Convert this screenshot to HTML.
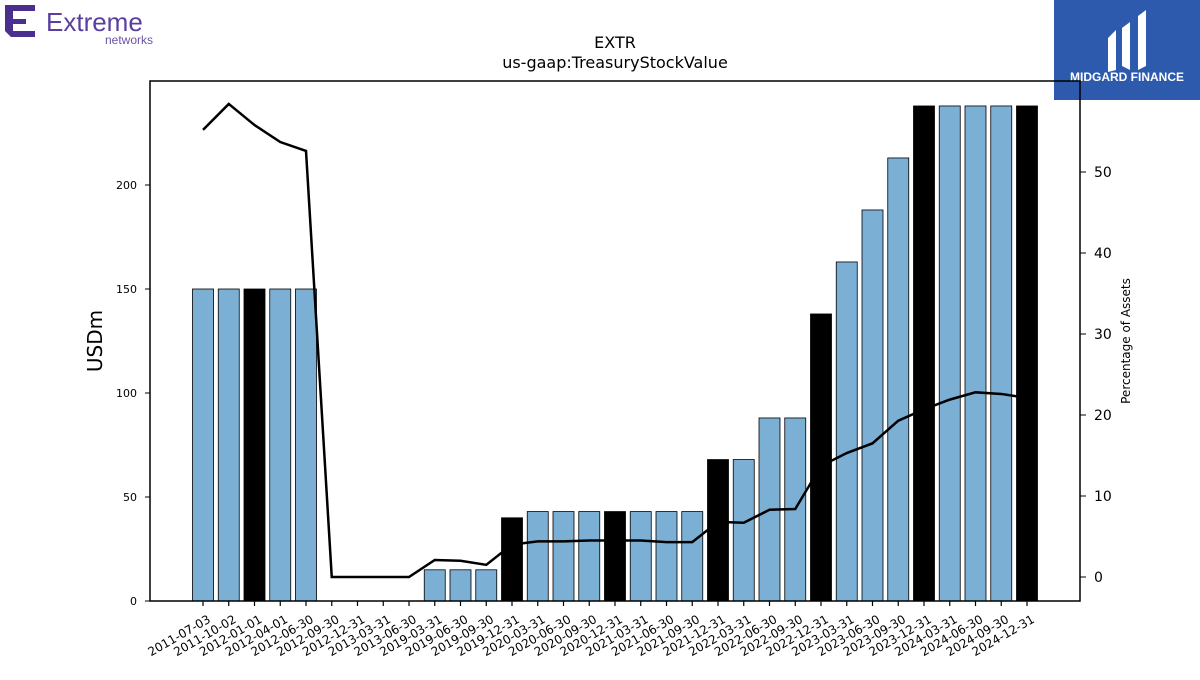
<!DOCTYPE html>
<html><head><meta charset="utf-8"><style>
body{margin:0;background:#fff;font-family:"Liberation Sans","DejaVu Sans",sans-serif}
</style></head><body>
<svg id="chart" width="1200" height="675" xmlns="http://www.w3.org/2000/svg" font-family="DejaVu Sans, Liberation Sans, sans-serif">
<g>
<path d="M5 5 H35 V11 H13 V19 H26 V24 H13 V31 H35 V37 H11 L5 31 Z" fill="#4b2f8f"/>
<text x="46" y="31" font-size="26" fill="#5a3f9e" font-family="Liberation Sans, sans-serif">Extreme</text>
<text x="105" y="44" font-size="12" fill="#6a52a8" font-family="Liberation Sans, sans-serif">networks</text>
</g>
<g>
<rect x="1054" y="0" width="146" height="100" fill="#2d5aad"/>
<path d="M1108 38 L1116 30 V70 L1108 72 Z M1122 28 L1130 22 V70 L1122 66 Z M1138 16 L1146 10 V66 L1138 70 Z" fill="#fff"/>
<text x="1127" y="81" font-size="12" font-weight="bold" fill="#fff" text-anchor="middle" font-family="Liberation Sans, sans-serif">MIDGARD FINANCE</text>
</g>
<text x="615" y="48" font-size="16" text-anchor="middle">EXTR</text>
<text x="615" y="68" font-size="16" text-anchor="middle">us-gaap:TreasuryStockValue</text>
<g id="plot"></g>
<rect x="150" y="81" width="930" height="520" fill="none" stroke="#000" stroke-width="1.5"/>
<text transform="translate(102,341) rotate(-90)" font-size="20" text-anchor="middle">USDm</text>
<text transform="translate(1130,341) rotate(-90)" font-size="12" text-anchor="middle">Percentage of Assets</text>
</svg>
<script>
const categories=["2011-07-03","2011-10-02","2012-01-01","2012-04-01","2012-06-30","2012-09-30","2012-12-31","2013-03-31","2013-06-30","2019-03-31","2019-06-30","2019-09-30","2019-12-31","2020-03-31","2020-06-30","2020-09-30","2020-12-31","2021-03-31","2021-06-30","2021-09-30","2021-12-31","2022-03-31","2022-06-30","2022-09-30","2022-12-31","2023-03-31","2023-06-30","2023-09-30","2023-12-31","2024-03-31","2024-06-30","2024-09-30","2024-12-31"];
const values=[150,150,150,150,150,0,0,0,0,15,15,15,40,43,43,43,43,43,43,43,68,68,88,88,138,163,188,213,238,238,238,238,238];
const highlighted=[2,12,16,20,24,28,32];
const pctAssets=[55.2,58.4,55.8,53.7,52.6,0,0,0,0,2.1,2.0,1.5,4.0,4.4,4.4,4.5,4.5,4.5,4.3,4.3,6.8,6.7,8.3,8.4,13.7,15.3,16.5,19.3,20.7,21.9,22.8,22.6,22.1];
const leftTicks=[0,50,100,150,200];
const rightTicks=[0,10,20,30,40,50];
const NS="http://www.w3.org/2000/svg";
const g=document.getElementById('plot');
const x=i=>203+i*(1027-203)/32;
const y=v=>601-v*2.08;
const y2=v=>577-v*8.1;
function mk(t,a){const e=document.createElementNS(NS,t);for(const k in a)e.setAttribute(k,a[k]);g.appendChild(e);return e;}
values.forEach((v,i)=>{
 const r=mk('rect',{x:x(i)-10.5,y:y(v),width:21,height:601-y(v),fill:highlighted.includes(i)?'#000':'#7bafd4',stroke:'#000','stroke-width':0.8});
 
 
 const t=mk('line',{x1:x(i),x2:x(i),y1:601,y2:606,stroke:'#000','stroke-width':1.2});
 
 
 const l=mk('text',{transform:`translate(${x(i)+4},${614}) rotate(-30)`,'font-size':12,'text-anchor':'end','dominant-baseline':'hanging'});
 l.textContent=categories[i];
 
 
});
const p=mk('polyline',{points:pctAssets.map((v,i)=>x(i)+','+y2(v)).join(' '),fill:'none',stroke:'#000','stroke-width':2.5});


leftTicks.forEach(v=>{
 const t=mk('line',{x1:145,x2:150,y1:y(v),y2:y(v),stroke:'#000'});
 
 
 const l=mk('text',{x:137,y:y(v)+4,'font-size':11,'text-anchor':'end'});
 l.textContent=v;
 
 
});
rightTicks.forEach(v=>{
 const t=mk('line',{x1:1080,x2:1086,y1:y2(v),y2:y2(v),stroke:'#000'});
 
 
 const l=mk('text',{x:1094,y:y2(v)+5,'font-size':14});
 l.textContent=v;
 
 
});
</script>
</body></html>
